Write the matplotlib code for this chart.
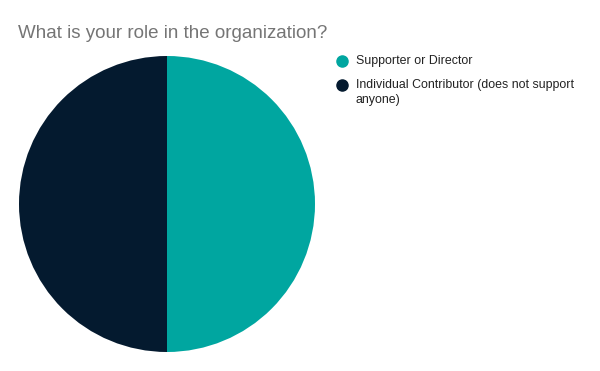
import matplotlib.pyplot as plt
from matplotlib.lines import Line2D

plt.rcParams['font.family'] = ['Liberation Sans', 'DejaVu Sans']

labels = ['Supporter or Director', 'Individual Contributor (does not support\nanyone)']
values = [50, 50]
colors = ['#00a6a0', '#041a2f']

fig = plt.figure(figsize=(6, 3.71), dpi=100)

# pie: center (167, 204) px, radius 148 px
cx, cy, r = 167, 204, 148
ax = fig.add_axes([(cx - r) / 600, (371 - cy - r) / 371, 2 * r / 600, 2 * r / 371])
ax.pie(values, colors=colors, startangle=90, counterclock=False, radius=1,
       wedgeprops=dict(linewidth=0))
ax.set_xlim(-1, 1)
ax.set_ylim(-1, 1)
ax.set_aspect('equal')
ax.axis('off')

fig.text(18 / 600, 1 - 33 / 371, 'What is your role in the organization?',
         fontsize=13.5, color='#757575', va='center', ha='left')

# legend drawn by hand so the marker sits on the first text line
for i, (lab, c) in enumerate(zip(labels, colors)):
    y = 1 - (61 + 24 * i) / 371
    fig.add_artist(Line2D([342 / 600], [y], marker='o', markersize=8, linestyle='',
                          markerfacecolor=c, markeredgecolor=c, transform=fig.transFigure))
    fig.text(356 / 600, y + 6 / 371, lab, fontsize=8.9, color='#222222', va='top', ha='left',
             linespacing=1.3)

fig.savefig('out.png', dpi=100)
